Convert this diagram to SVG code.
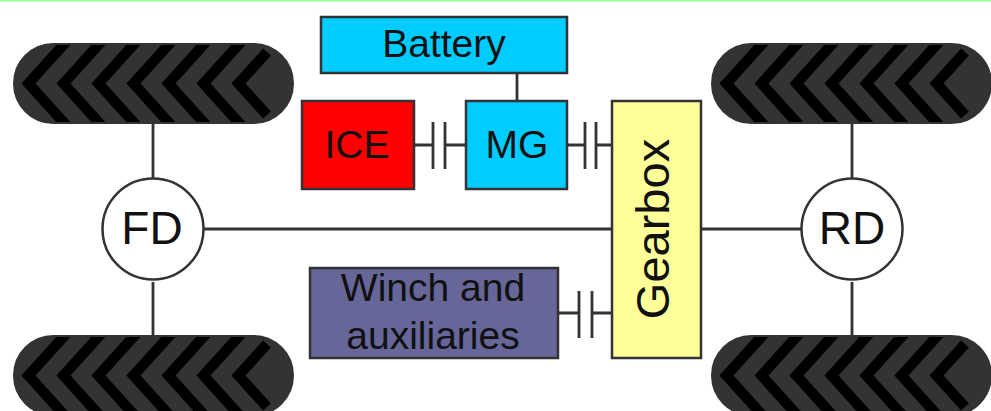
<svg xmlns="http://www.w3.org/2000/svg" width="991" height="411" viewBox="0 0 991 411">
<style>
text{font-family:"Liberation Sans",Arial,sans-serif;fill:#111;text-anchor:middle}
.b{stroke:#333;stroke-width:2.5}
.c{stroke:#333;stroke-width:2.8;fill:none}
.ch{fill:none;stroke:#000;stroke-width:10.5}
</style>
<defs>
<clipPath id="tc"><rect x="14" y="44" width="279" height="79" rx="39.500"/></clipPath>
<g id="tire">
<rect x="14" y="44" width="279" height="79" rx="39.500" fill="#333"/>
<g clip-path="url(#tc)">
<path class="ch" d="M70.500 37L28.500 83.500L70.500 130"/>
<path class="ch" d="M105.500 37L63.500 83.500L105.500 130"/>
<path class="ch" d="M140.500 37L98.500 83.500L140.500 130"/>
<path class="ch" d="M175.500 37L133.500 83.500L175.500 130"/>
<path class="ch" d="M210.500 37L168.500 83.500L210.500 130"/>
<path class="ch" d="M245.500 37L203.500 83.500L245.500 130"/>
<path class="ch" d="M267 52L238.500 83.500L267 115"/>
</g>
<rect x="14" y="44" width="279" height="79" rx="39.500" fill="none" stroke="#333" stroke-width="2"/>
</g>
</defs>
<rect x="0" y="0" width="991" height="1.500" fill="#9f9"/>
<g id="connectors" class="c">
<path d="M153 124V180M153 282V335M852 124V180M852 282V335"/>
<path d="M204 229H612M701 229H802"/>
<path d="M517 73V101"/>
<path d="M414 145H433M445 145H466M567 145H585M596 145H612M558 313H579M592 313H612"/>
<path d="M433 122V169M445 122V169M585 122V169M596 122V169M579 291V338M592 291V338"/>
</g>
<g id="tire-fl"><use href="#tire"/></g>
<g id="tire-rl"><use href="#tire" y="292"/></g>
<g id="tire-fr"><use href="#tire" x="698"/></g>
<g id="tire-rr"><use href="#tire" x="698" y="292"/></g>
<g id="battery"><rect class="b" x="321" y="17" width="246" height="56" fill="#0cf"/><text x="444" y="57" font-size="39">Battery</text></g>
<g id="ice"><rect class="b" x="302" y="101" width="112" height="88" fill="#f00"/><text x="357" y="158" font-size="39">ICE</text></g>
<g id="mg"><rect class="b" x="466" y="101" width="101" height="88" fill="#0cf"/><text x="517" y="158" font-size="39">MG</text></g>
<g id="gearbox"><rect class="b" x="612" y="101" width="89" height="257" fill="#ff9"/><text transform="translate(669 229) rotate(-90)" font-size="47">Gearbox</text></g>
<g id="winch"><rect class="b" x="310" y="268" width="248" height="90" fill="#669"/><text x="433" y="301" font-size="39">Winch and</text><text x="433" y="349" font-size="39">auxiliaries</text></g>
<g id="fd"><circle class="b" cx="153" cy="229" r="50.500" fill="#fff"/><text x="152" y="244" font-size="46">FD</text></g>
<g id="rd"><circle class="b" cx="852" cy="229" r="50.500" fill="#fff"/><text x="852" y="244" font-size="46">RD</text></g>
</svg>
